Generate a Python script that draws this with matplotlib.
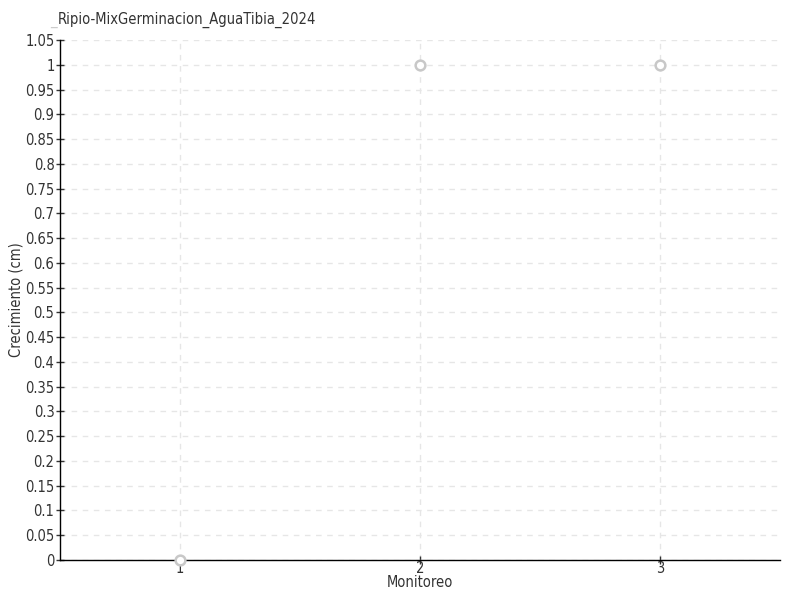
import matplotlib.pyplot as plt
from matplotlib import font_manager
import numpy as np

monitoreo = [1, 2, 3]
crecimiento = [0, 1, 1]
titulo = "Ripio-MixGerminacion_AguaTibia_2024"
yticks = [round(0.05 * i, 2) for i in range(22)]

names = {f.name for f in font_manager.fontManager.ttflist}
fam = "Liberation Sans Narrow" if "Liberation Sans Narrow" in names else "DejaVu Sans"
plt.rcParams['font.family'] = [fam, 'DejaVu Sans']
plt.rcParams['font.stretch'] = 'condensed'

fig = plt.figure(figsize=(8, 6), dpi=100)
ax = fig.add_axes([60/800, 40/600, 720/800, 520/600])

ax.plot(monitoreo, crecimiento, linestyle='none', marker='o', markersize=7,
        markerfacecolor='white', markeredgecolor='#c8c8c8', markeredgewidth=1.8,
        clip_on=False, zorder=3)

ax.set_xlim(0.5, 3.5)
ax.set_ylim(0, 1.05)
ax.set_xticks(monitoreo)
ax.set_xticklabels([str(m) for m in monitoreo])
ax.set_yticks(yticks)
ax.set_yticklabels([f"{v:g}" for v in yticks])

ax.grid(True, color='#e6e6e6', linestyle=(0, (4, 4)), linewidth=1)
for s in ['top', 'right']:
    ax.spines[s].set_visible(False)
for s in ['left', 'bottom']:
    ax.spines[s].set_color('black')
    ax.spines[s].set_linewidth(1)

ax.tick_params(axis='both', direction='inout', length=6, width=1, colors='#333333',
               labelsize=10.5, pad=1)
ax.tick_params(axis='x', pad=-2)

ax.set_xlabel("Monitoreo", fontsize=10.5, color='#333333')
ax.xaxis.set_label_coords(0.5, -15/520)
ax.set_ylabel("Crecimiento (cm)", fontsize=10.5, color='#333333')
ax.yaxis.set_label_coords(-36/720, 0.5)

fig.text(50/800, 1 - 20/600, "_", fontsize=10.5, color='#cccccc', va='center')
fig.text(58/800, 1 - 20/600, titulo, fontsize=10.5, color='#333333', va='center')

fig.savefig("out.png", dpi=100)
